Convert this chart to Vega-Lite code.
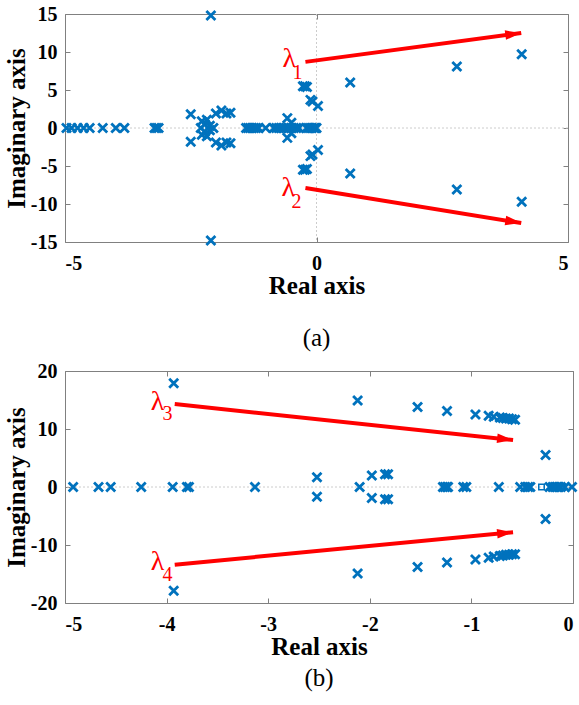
{
  "$schema": "https://vega.github.io/schema/vega-lite/v6.json",
  "padding": {"left": 4, "top": 4, "right": 5, "bottom": 5},
  "background": "white",
  "spacing": 10,
  "config": {
    "font": "Liberation Serif",
    "view": {"stroke": null},
    "axis": {
      "domainColor": "#808080", "tickColor": "#808080", "tickSize": -5, "grid": false,
      "labelFont": "Liberation Serif", "labelFontWeight": "bold", "labelFontSize": 20, "labelColor": "black",
      "labelExpr": "replace(datum.label, '−', '-')",
      "titleFont": "Liberation Serif", "titleFontWeight": "bold", "titleFontSize": 25, "titleColor": "black"
    },
    "axisX": {"labelPadding": 16},
    "axisY": {"labelPadding": 13},
    "title": {"font": "Liberation Serif", "fontSize": 25, "fontWeight": "normal", "color": "black"}
  },
  "datasets": {
    "zero": [{"v": 0}],
    "polesA": [
      {"re": -4.97, "im": 0}, {"re": -4.87, "im": 0}, {"re": -4.75, "im": 0}, {"re": -4.63, "im": 0}, {"re": -4.51, "im": 0},
      {"re": -4.25, "im": 0}, {"re": -3.99, "im": 0}, {"re": -3.82, "im": 0}, {"re": -3.22, "im": 0}, {"re": -3.18, "im": 0}, {"re": -3.14, "im": 0},
      {"re": -1.40, "im": 0}, {"re": -1.36, "im": 0}, {"re": -1.32, "im": 0}, {"re": -1.28, "im": 0}, {"re": -1.24, "im": 0}, {"re": -1.20, "im": 0}, {"re": -1.15, "im": 0}, {"re": -1.01, "im": 0},
      {"re": -0.85, "im": 0}, {"re": -0.80, "im": 0}, {"re": -0.75, "im": 0}, {"re": -0.70, "im": 0}, {"re": -0.65, "im": 0}, {"re": -0.60, "im": 0},
      {"re": -0.55, "im": 0}, {"re": -0.50, "im": 0}, {"re": -0.45, "im": 0}, {"re": -0.40, "im": 0}, {"re": -0.35, "im": 0},
      {"re": -0.20, "im": 0}, {"re": -0.16, "im": 0}, {"re": -0.12, "im": 0}, {"re": -0.09, "im": 0}, {"re": -0.04, "im": 0}, {"re": -0.02, "im": 0}, {"re": 0.0, "im": 0},
      {"re": -2.28, "im": 0.9}, {"re": -2.22, "im": 0.5}, {"re": -2.30, "im": 0}, {"re": -2.22, "im": -0.5}, {"re": -2.28, "im": -0.9},
      {"re": -2.12, "im": 0.3}, {"re": -2.12, "im": -0.3}, {"re": -2.05, "im": 0}, {"re": -2.18, "im": 1.1}, {"re": -2.18, "im": -1.1},
      {"re": -2.50, "im": 1.8}, {"re": -2.50, "im": -1.8},
      {"re": -2.00, "im": 1.9}, {"re": -1.89, "im": 2.3}, {"re": -1.79, "im": 1.9}, {"re": -1.71, "im": 2.0},
      {"re": -2.00, "im": -1.9}, {"re": -1.89, "im": -2.3}, {"re": -1.79, "im": -1.9}, {"re": -1.71, "im": -2.0},
      {"re": -0.58, "im": 1.3}, {"re": -0.58, "im": -1.3}, {"re": -0.50, "im": 0.7}, {"re": -0.50, "im": -0.7},
      {"re": -0.27, "im": 5.5}, {"re": -0.23, "im": 5.5}, {"re": -0.19, "im": 5.4},
      {"re": -0.27, "im": -5.5}, {"re": -0.23, "im": -5.5}, {"re": -0.19, "im": -5.4},
      {"re": -0.12, "im": 3.7}, {"re": -0.08, "im": 3.5}, {"re": 0.03, "im": 2.9},
      {"re": -0.12, "im": -3.7}, {"re": -0.08, "im": -3.5}, {"re": 0.03, "im": -2.9},
      {"re": 0.67, "im": 6.0}, {"re": 0.67, "im": -6.0}, {"re": 2.79, "im": 8.1}, {"re": 2.79, "im": -8.1},
      {"re": 4.08, "im": 9.7}, {"re": 4.08, "im": -9.7}, {"re": -2.1, "im": 14.8}, {"re": -2.1, "im": -14.8}
    ],
    "sqA": [{"re": -0.26, "im": 0}, {"re": -0.06, "im": 0}],
    "arrA": [
      {"id": "l1", "x1": -0.22, "y1": 8.7, "x2": 4.07, "y2": 12.5},
      {"id": "l2", "x1": -0.22, "y1": -7.9, "x2": 4.07, "y2": -12.5}
    ],
    "labA": [
      {"kind": "sym", "x": -0.54, "y": 9.1, "t": "λ"},
      {"kind": "sym", "x": -0.56, "y": -7.9, "t": "λ"},
      {"kind": "sub", "x": -0.38, "y": 7.2, "t": "1"},
      {"kind": "sub", "x": -0.40, "y": -9.7, "t": "2"}
    ],
    "polesB": [
      {"re": -4.92, "im": 0}, {"re": -4.67, "im": 0}, {"re": -4.55, "im": 0}, {"re": -4.25, "im": 0}, {"re": -3.94, "im": 0},
      {"re": -3.80, "im": 0}, {"re": -3.78, "im": 0}, {"re": -3.13, "im": 0},
      {"re": -3.93, "im": 17.9}, {"re": -3.93, "im": -17.9},
      {"re": -2.52, "im": 1.7}, {"re": -2.52, "im": -1.7},
      {"re": -2.12, "im": 14.9}, {"re": -2.12, "im": -14.9},
      {"re": -2.10, "im": 0},
      {"re": -1.98, "im": 2.0}, {"re": -1.98, "im": -1.9},
      {"re": -1.85, "im": 2.2}, {"re": -1.82, "im": 2.2}, {"re": -1.85, "im": -2.1}, {"re": -1.82, "im": -2.1},
      {"re": -1.53, "im": 13.8}, {"re": -1.53, "im": -13.8},
      {"re": -1.24, "im": 13.1}, {"re": -1.24, "im": -13.0},
      {"re": -0.96, "im": 12.5}, {"re": -0.96, "im": -12.5},
      {"re": -0.83, "im": 12.3}, {"re": -0.78, "im": 12.1}, {"re": -0.72, "im": 12.0}, {"re": -0.69, "im": 11.9},
      {"re": -0.66, "im": 11.8}, {"re": -0.63, "im": 11.8}, {"re": -0.60, "im": 11.7}, {"re": -0.57, "im": 11.6},
      {"re": -0.83, "im": -12.2}, {"re": -0.78, "im": -12.0}, {"re": -0.72, "im": -11.9}, {"re": -0.69, "im": -11.8},
      {"re": -0.66, "im": -11.7}, {"re": -0.63, "im": -11.7}, {"re": -0.60, "im": -11.6}, {"re": -0.57, "im": -11.6},
      {"re": -1.28, "im": 0}, {"re": -1.26, "im": 0}, {"re": -1.24, "im": 0}, {"re": -1.23, "im": 0},
      {"re": -1.08, "im": 0}, {"re": -1.05, "im": 0}, {"re": -0.73, "im": 0},
      {"re": -0.52, "im": 0}, {"re": -0.47, "im": 0}, {"re": -0.44, "im": 0}, {"re": -0.42, "im": 0},
      {"re": -0.23, "im": 0}, {"re": -0.20, "im": 0}, {"re": -0.18, "im": 0}, {"re": -0.16, "im": 0}, {"re": -0.14, "im": 0},
      {"re": -0.12, "im": 0}, {"re": -0.08, "im": 0}, {"re": -0.01, "im": 0},
      {"re": -0.27, "im": 5.5}, {"re": -0.27, "im": -5.5}
    ],
    "sqB": [{"re": -0.31, "im": 0}, {"re": -0.10, "im": 0}],
    "arrB": [
      {"id": "l3", "x1": -3.92, "y1": 14.3, "x2": -0.59, "y2": 8.1},
      {"id": "l4", "x1": -3.92, "y1": -13.4, "x2": -0.59, "y2": -7.8}
    ],
    "labB": [
      {"kind": "sym", "x": -4.09, "y": 14.7, "t": "λ"},
      {"kind": "sym", "x": -4.09, "y": -12.9, "t": "λ"},
      {"kind": "sub", "x": -3.99, "y": 12.6, "t": "3"},
      {"kind": "sub", "x": -3.99, "y": -15.2, "t": "4"}
    ]
  },
  "vconcat": [
    {
      "width": 503, "height": 228,
      "title": {"text": "(a)", "orient": "bottom", "offset": 28},
      "resolve": {"axis": {"x": "independent", "y": "independent"}},
      "layer": [
        {"data": {"name": "zero"}, "mark": {"type": "rule", "color": "#cccccc", "strokeDash": [2, 2], "strokeWidth": 1},
         "encoding": {"x": {"field": "v", "type": "quantitative", "scale": {"domain": [-5, 5], "nice": false, "zero": false}, "axis": null}}},
        {"data": {"name": "zero"}, "mark": {"type": "rule", "color": "#cccccc", "strokeDash": [2, 2], "strokeWidth": 1},
         "encoding": {"y": {"field": "v", "type": "quantitative", "scale": {"domain": [-15, 15], "nice": false, "zero": false}, "axis": null}}},
        {"data": {"name": "polesA"},
         "mark": {"type": "point", "shape": "M-1,-1L1,1M-1,1L1,-1", "size": 81, "strokeWidth": 2.8, "color": "#0072BD", "filled": false, "opacity": 1},
         "encoding": {
           "x": {"field": "re", "type": "quantitative", "scale": {"domain": [-5, 5], "nice": false, "zero": false},
                 "axis": {"orient": "bottom", "values": [-5, 0, 5], "title": "Real axis", "titlePadding": 0}},
           "y": {"field": "im", "type": "quantitative", "scale": {"domain": [-15, 15], "nice": false, "zero": false},
                 "axis": {"orient": "left", "values": [-15, -10, -5, 0, 5, 10, 15], "title": "Imaginary axis", "titlePadding": 1}}
         }},
        {"data": {"name": "sqA"},
         "mark": {"type": "point", "shape": "square", "size": 30, "strokeWidth": 1.5, "color": "#0072BD", "filled": false, "opacity": 1},
         "encoding": {
           "x": {"field": "re", "type": "quantitative", "scale": {"domain": [-5, 5], "nice": false, "zero": false},
                 "axis": {"orient": "top", "values": [-5, 0, 5], "labels": false, "title": null}},
           "y": {"field": "im", "type": "quantitative", "scale": {"domain": [-15, 15], "nice": false, "zero": false},
                 "axis": {"orient": "right", "values": [-15, -10, -5, 0, 5, 10, 15], "labels": false, "title": null}}
         }},
        {"data": {"name": "arrA"}, "mark": {"type": "rule", "color": "#ff0000", "strokeWidth": 4},
         "encoding": {
           "x": {"field": "x1", "type": "quantitative", "axis": null}, "y": {"field": "y1", "type": "quantitative", "axis": null},
           "x2": {"field": "x2"}, "y2": {"field": "y2"}
         }},
        {"data": {"name": "arrA"}, "transform": [{"filter": "datum.id == 'l1'"}],
         "mark": {"type": "point", "shape": "M-2,-0.6L0,0L-2,0.6Z", "size": 256, "filled": true, "color": "#ff0000", "opacity": 1, "angle": -7.6},
         "encoding": {"x": {"field": "x2", "type": "quantitative", "axis": null}, "y": {"field": "y2", "type": "quantitative", "axis": null}}},
        {"data": {"name": "arrA"}, "transform": [{"filter": "datum.id == 'l2'"}],
         "mark": {"type": "point", "shape": "M-2,-0.6L0,0L-2,0.6Z", "size": 256, "filled": true, "color": "#ff0000", "opacity": 1, "angle": 9.2},
         "encoding": {"x": {"field": "x2", "type": "quantitative", "axis": null}, "y": {"field": "y2", "type": "quantitative", "axis": null}}},
        {"data": {"name": "labA"}, "transform": [{"filter": "datum.kind == 'sym'"}],
         "mark": {"type": "text", "color": "#ff0000", "fontSize": 28, "font": "Liberation Serif", "align": "center", "baseline": "middle"},
         "encoding": {"x": {"field": "x", "type": "quantitative", "axis": null}, "y": {"field": "y", "type": "quantitative", "axis": null}, "text": {"field": "t"}}},
        {"data": {"name": "labA"}, "transform": [{"filter": "datum.kind == 'sub'"}],
         "mark": {"type": "text", "color": "#ff0000", "fontSize": 20, "font": "Liberation Serif", "align": "center", "baseline": "middle"},
         "encoding": {"x": {"field": "x", "type": "quantitative", "axis": null}, "y": {"field": "y", "type": "quantitative", "axis": null}, "text": {"field": "t"}}}
      ]
    },
    {
      "width": 508, "height": 232,
      "title": {"text": "(b)", "orient": "bottom", "offset": 7},
      "resolve": {"axis": {"x": "independent", "y": "independent"}},
      "layer": [
        {"data": {"name": "zero"}, "mark": {"type": "rule", "color": "#cccccc", "strokeDash": [2, 2], "strokeWidth": 1},
         "encoding": {"y": {"field": "v", "type": "quantitative", "scale": {"domain": [-20, 20], "nice": false, "zero": false}, "axis": null}}},
        {"data": {"name": "polesB"},
         "mark": {"type": "point", "shape": "M-1,-1L1,1M-1,1L1,-1", "size": 81, "strokeWidth": 2.8, "color": "#0072BD", "filled": false, "opacity": 1},
         "encoding": {
           "x": {"field": "re", "type": "quantitative", "scale": {"domain": [-5, 0], "nice": false, "zero": false},
                 "axis": {"orient": "bottom", "values": [-5, -4, -3, -2, -1, 0], "title": "Real axis", "titlePadding": 0}},
           "y": {"field": "im", "type": "quantitative", "scale": {"domain": [-20, 20], "nice": false, "zero": false},
                 "axis": {"orient": "left", "values": [-20, -10, 0, 10, 20], "title": "Imaginary axis", "titlePadding": 1}}
         }},
        {"data": {"name": "sqB"},
         "mark": {"type": "point", "shape": "square", "size": 30, "strokeWidth": 1.5, "color": "#0072BD", "filled": false, "opacity": 1},
         "encoding": {
           "x": {"field": "re", "type": "quantitative", "scale": {"domain": [-5, 0], "nice": false, "zero": false},
                 "axis": {"orient": "top", "values": [-5, -4, -3, -2, -1, 0], "labels": false, "title": null}},
           "y": {"field": "im", "type": "quantitative", "scale": {"domain": [-20, 20], "nice": false, "zero": false},
                 "axis": {"orient": "right", "values": [-20, -10, 0, 10, 20], "labels": false, "title": null}}
         }},
        {"data": {"name": "arrB"}, "mark": {"type": "rule", "color": "#ff0000", "strokeWidth": 4},
         "encoding": {
           "x": {"field": "x1", "type": "quantitative", "axis": null}, "y": {"field": "y1", "type": "quantitative", "axis": null},
           "x2": {"field": "x2"}, "y2": {"field": "y2"}
         }},
        {"data": {"name": "arrB"}, "transform": [{"filter": "datum.id == 'l3'"}],
         "mark": {"type": "point", "shape": "M-2,-0.6L0,0L-2,0.6Z", "size": 256, "filled": true, "color": "#ff0000", "opacity": 1, "angle": 6.1},
         "encoding": {"x": {"field": "x2", "type": "quantitative", "axis": null}, "y": {"field": "y2", "type": "quantitative", "axis": null}}},
        {"data": {"name": "arrB"}, "transform": [{"filter": "datum.id == 'l4'"}],
         "mark": {"type": "point", "shape": "M-2,-0.6L0,0L-2,0.6Z", "size": 256, "filled": true, "color": "#ff0000", "opacity": 1, "angle": -5.6},
         "encoding": {"x": {"field": "x2", "type": "quantitative", "axis": null}, "y": {"field": "y2", "type": "quantitative", "axis": null}}},
        {"data": {"name": "labB"}, "transform": [{"filter": "datum.kind == 'sym'"}],
         "mark": {"type": "text", "color": "#ff0000", "fontSize": 28, "font": "Liberation Serif", "align": "center", "baseline": "middle"},
         "encoding": {"x": {"field": "x", "type": "quantitative", "axis": null}, "y": {"field": "y", "type": "quantitative", "axis": null}, "text": {"field": "t"}}},
        {"data": {"name": "labB"}, "transform": [{"filter": "datum.kind == 'sub'"}],
         "mark": {"type": "text", "color": "#ff0000", "fontSize": 20, "font": "Liberation Serif", "align": "center", "baseline": "middle"},
         "encoding": {"x": {"field": "x", "type": "quantitative", "axis": null}, "y": {"field": "y", "type": "quantitative", "axis": null}, "text": {"field": "t"}}}
      ]
    }
  ]
}
